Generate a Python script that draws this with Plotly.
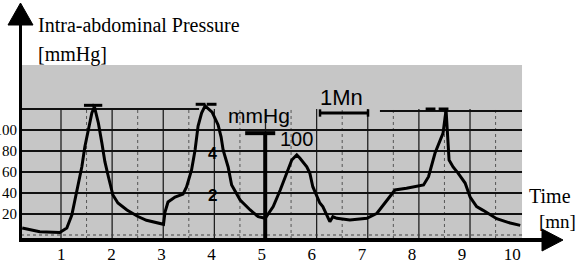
import plotly.graph_objects as go

# ---------------- data ----------------
time_mn = [0.22, 0.57, 0.97, 1.11, 1.21, 1.31, 1.41, 1.47, 1.54, 1.61, 1.66, 1.74,
           1.81, 1.87, 1.94, 2.03, 2.13, 2.31, 2.53, 2.70, 3.04, 3.07, 3.13, 3.27,
           3.43, 3.50, 3.60, 3.67, 3.73, 3.80, 3.87, 4.01, 4.13, 4.19, 4.23, 4.33,
           4.40, 4.57, 4.77, 4.93, 5.07, 5.23, 5.37, 5.50, 5.60, 5.70, 5.76, 5.90,
           5.96, 6.02, 6.10, 6.16, 6.22, 6.36, 6.42, 6.50, 6.76, 7.10, 7.30, 7.50,
           7.66, 7.89, 8.09, 8.23, 8.33, 8.46, 8.62, 8.66, 8.68, 8.74, 8.82, 8.92,
           9.06, 9.16, 9.29, 9.42, 9.69, 9.96, 10.16]
pressure_mmhg = [6.7, 3.1, 2.4, 6.7, 19.0, 42.9, 65.0, 84.1, 100.0, 116.2, 122.2, 106.7,
                 87.6, 69.8, 55.5, 38.1, 30.5, 23.8, 17.6, 14.0, 10.2, 21.9, 31.4, 36.2,
                 39.0, 45.7, 61.9, 81.0, 103.8, 116.2, 122.9, 117.1, 104.8, 93.3, 81.0, 64.8,
                 47.6, 33.3, 23.8, 17.4, 15.9, 27.0, 42.9, 59.0, 71.4, 76.2, 73.3, 65.0,
                 59.0, 46.0, 36.5, 30.5, 27.0, 12.7, 17.4, 15.9, 14.3, 15.9, 20.7, 33.3,
                 42.9, 44.5, 46.0, 47.6, 55.5, 78.1, 97.1, 112.4, 119.0, 71.4, 64.8, 59.0,
                 49.5, 36.2, 27.0, 23.5, 15.5, 11.4, 9.2]

# short pen marks at the top of three contractions
peak_mark_time = [1.55, 1.72, 3.78, 4.00, 8.37, 8.63]
peak_mark_mmhg = [123.5, 123.5, 124.5, 124.5, 120.0, 120.0]

x_tick_values = [1, 2, 3, 4, 5, 6, 7, 8, 9, 10]
x_tick_labels = ["1", "2", "3", "4", "5", "6", "7", "8", "9", "10"]
y_tick_values = [20, 40, 60, 80, 100]
y_tick_labels = ["20", "40", "60", "80", "100"]
grid_pressures = [20, 40, 60, 80, 100]
calibration_mmhg = 100
calibration_time = 5.07

# ---------------- layout geometry ----------------
W, H = 579, 274
ML, MR, MT, MB = 20, 17, 3, 34
PW, PH = W - ML - MR, H - MT - MB
T0_PX, PX_PER_MIN = 11.2, 50.1          # time axis scale
ZERO_PX, PX_PER_MMHG = 235.0, 21.0 / 20  # pressure axis scale

x_range = [(ML - T0_PX) / PX_PER_MIN, (W - MR - T0_PX) / PX_PER_MIN]
y_range = [(ZERO_PX - (H - MB)) / PX_PER_MMHG, (ZERO_PX - MT) / PX_PER_MMHG]


def fx(px):
    return (px - ML) / PW


def fy(py):
    return (H - MB - py) / PH


SERIF = "Liberation Serif"
SANS = "Liberation Sans"

# chart-paper extent (minutes / mmHg)
paper_t = [0.196, 10.196]
paper_p = [-3.8, 162]
grid_t0, grid_step = 0.994, 1.0205

shapes = []
# grey recording paper
shapes.append(dict(type="rect", xref="x", yref="y", x0=paper_t[0], x1=paper_t[1],
                   y0=paper_p[0], y1=paper_p[1], fillcolor="#c6c6c6",
                   line=dict(width=0), layer="below"))
# vertical paper grid
k = 0
while True:
    t_major = grid_t0 + grid_step * k
    if t_major > paper_t[1] - 0.1:
        break
    shapes.append(dict(type="line", xref="x", yref="y", x0=t_major, x1=t_major,
                       y0=paper_p[0], y1=120, line=dict(color="#202020", width=1.3),
                       layer="below"))
    t_minor = t_major + grid_step / 2
    if t_minor < paper_t[1] - 0.1:
        shapes.append(dict(type="line", xref="x", yref="y", x0=t_minor, x1=t_minor,
                           y0=paper_p[0], y1=120,
                           line=dict(color="#555555", width=1, dash="dot"),
                           layer="below"))
    k += 1
# horizontal paper grid
for p in grid_pressures:
    shapes.append(dict(type="line", xref="x", yref="y", x0=paper_t[0], x1=paper_t[1],
                       y0=p, y1=p, line=dict(color="#111111", width=2), layer="below"))
shapes.append(dict(type="line", xref="x", yref="y", x0=paper_t[0], x1=3.75,
                   y0=120, y1=120, line=dict(color="#111111", width=2), layer="below"))
shapes.append(dict(type="line", xref="x", yref="y", x0=7.36, x1=paper_t[1],
                   y0=118, y1=118, line=dict(color="#111111", width=2), layer="below"))
shapes.append(dict(type="line", xref="x", yref="y", x0=paper_t[0], x1=paper_t[1],
                   y0=0, y1=0, line=dict(color="#444444", width=1, dash="dot"),
                   layer="below"))

# calibration bar (100 mmHg)
shapes.append(dict(type="line", xref="x", yref="y", x0=calibration_time,
                   x1=calibration_time, y0=y_range[0], y1=calibration_mmhg - 3,
                   line=dict(color="black", width=4)))
shapes.append(dict(type="line", xref="x", yref="y", x0=calibration_time - 0.4,
                   x1=calibration_time + 0.2, y0=calibration_mmhg - 3,
                   y1=calibration_mmhg - 3, line=dict(color="black", width=4)))

# 1 minute scale bar
sb0, sb1, sbp = 6.164, 7.122, 116.2
shapes.append(dict(type="line", xref="x", yref="y", x0=sb0, x1=sb1, y0=sbp, y1=sbp,
                   line=dict(color="black", width=3)))
for xb in (sb0, sb1):
    shapes.append(dict(type="line", xref="x", yref="y", x0=xb, x1=xb, y0=sbp - 3.5,
                       y1=sbp + 3.5, line=dict(color="black", width=2.5)))

# axes with arrow heads (paper coords)
shapes.append(dict(type="line", xref="paper", yref="paper", x0=fx(20.5), x1=fx(20.5),
                   y0=fy(242), y1=fy(22), line=dict(color="black", width=3)))
shapes.append(dict(type="line", xref="paper", yref="paper", x0=fx(19), x1=fx(546),
                   y0=fy(240), y1=fy(240), line=dict(color="black", width=4)))
shapes.append(dict(type="path", xref="paper", yref="paper",
                   path=f"M {fx(20.5)} {fy(3)} L {fx(8)} {fy(25)} L {fx(33)} {fy(25)} Z",
                   fillcolor="black", line=dict(color="black", width=1)))
shapes.append(dict(type="path", xref="paper", yref="paper",
                   path=f"M {fx(563)} {fy(240)} L {fx(542)} {fy(229)} L {fx(542)} {fy(251)} Z",
                   fillcolor="black", line=dict(color="black", width=1)))


def label(text, px, py, size, family=SERIF, xanchor="left"):
    return dict(text=text, xref="paper", yref="paper", x=fx(px), y=fy(py),
                xanchor=xanchor, yanchor="middle", showarrow=False,
                font=dict(family=family, size=size, color="black"))


annotations = [
    label("Intra-abdominal Pressure", 36, 25, 20),
    label("[mmHg]", 36, 54, 20),
    label("Time", 527, 196, 20),
    label("[mn]", 537, 221, 19),
    label("mmHg", 226, 115, 21, SANS),
    label("100", 278, 139, 20, SANS),
    label("1Mn", 318, 97, 22, SANS),
    label("<b>4</b>", 212, 153, 16, SANS, "center"),
    label("<b>2</b>", 212, 195, 17, SANS, "center"),
]

fig = go.Figure()
fig.add_trace(go.Scatter(x=time_mn, y=pressure_mmhg, mode="lines",
                         line=dict(color="black", width=3), hoverinfo="skip"))
fig.add_trace(go.Scatter(x=peak_mark_time, y=peak_mark_mmhg, mode="markers",
                         marker=dict(symbol="line-ew", size=7,
                                     line=dict(color="black", width=3)),
                         hoverinfo="skip"))

fig.update_layout(
    width=W, height=H,
    margin=dict(l=ML, r=MR, t=MT, b=MB, autoexpand=False),
    paper_bgcolor="white", plot_bgcolor="white",
    showlegend=False,
    shapes=shapes, annotations=annotations,
    xaxis=dict(range=x_range, tickvals=x_tick_values, ticktext=x_tick_labels,
               showgrid=False, zeroline=False, showline=False, ticks="",
               automargin=False,
               tickfont=dict(family=SERIF, size=17, color="black"),
               ticklabelstandoff=2, fixedrange=True),
    yaxis=dict(range=y_range, tickvals=y_tick_values, ticktext=y_tick_labels,
               showgrid=False, zeroline=False, showline=False, ticks="",
               automargin=False,
               tickfont=dict(family=SERIF, size=15, color="black"),
               ticklabelstandoff=2, fixedrange=True),
)

fig.write_html("out.html", config={"displayModeBar": False},
               post_script="document.body.style.margin='0';"
                           "document.body.style.overflow='hidden';")
